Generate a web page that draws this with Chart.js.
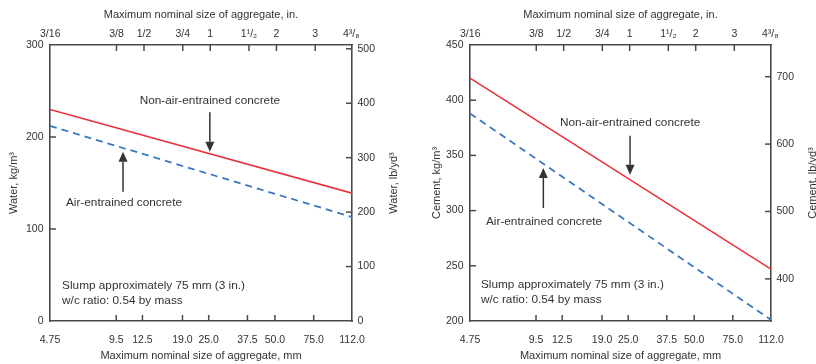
<!DOCTYPE html>
<html><head><meta charset="utf-8">
<script src="https://cdn.jsdelivr.net/npm/chart.js@4.4.1/dist/chart.umd.min.js"></script>
<style>
html,body{margin:0;padding:0;background:#fff;overflow:hidden;width:816px;height:364px;position:relative;}
#c1{position:absolute;left:0;top:0;}
#c2{position:absolute;left:408px;top:0;}
</style></head><body>
<canvas id="c1" width="408" height="364"></canvas>
<canvas id="c2" width="420" height="364"></canvas>
<script>
// ---------------- data ----------------
const sizesMM = [4.75, 112.0];   // end points of the straight lines (mm)
const mmTicks = [4.75, 9.5, 12.5, 19.0, 25.0, 37.5, 50.0, 75.0, 112.0];
const mmTickLabels = ['4.75', '9.5', '12.5', '19.0', '25.0', '37.5', '50.0', '75.0', '112.0'];
const inchTicks = [0.1875, 0.375, 0.5, 0.75, 1, 1.5, 2, 3, 4.375];
const inchTickLabels = ['3/16', '3/8', '1/2', '3/4', '1', '1\u00B9/\u2082', '2', '3', '4\u00B3/\u2088'];

const waterNonAir = [230, 139];      // kg/m3
const waterAir = [212, 113];         // kg/m3
const waterKgTicks = [0, 100, 200, 300];
const waterLbTicks = [0, 100, 200, 300, 400, 500];

const cementNonAir = [420, 247];     // kg/m3
const cementAir = [388, 201];        // kg/m3
const cementKgTicks = [200, 250, 300, 350, 400, 450];
const cementLbTicks = [400, 500, 600, 700];

// ---------------- styling ----------------
const FONT = '"Liberation Sans", Arial, Helvetica, sans-serif';
const TXT = '#333333';
const AXC = '#4a4a4a';
const RED = '#e8323b';
const BLUE = '#3b78be';

const innerTicks = {
  id: 'innerTicks',
  afterDatasetsDraw(chart) {
    const {ctx, chartArea: a} = chart;
    const L = 6;
    ctx.save();
    ctx.strokeStyle = AXC; ctx.lineWidth = 1.5;
    Object.values(chart.scales).forEach(s => {
      s.ticks.forEach(t => {
        const p = s.getPixelForValue(t.value);
        if (s.isHorizontal()) {
          if (p < a.left + 2 || p > a.right - 2) return;
          ctx.beginPath();
          if (s.position === 'top') { ctx.moveTo(p, a.top); ctx.lineTo(p, a.top + L); }
          else { ctx.moveTo(p, a.bottom); ctx.lineTo(p, a.bottom - L); }
          ctx.stroke();
        } else {
          if (p < a.top + 2 || p > a.bottom - 2) return;
          ctx.beginPath();
          if (s.position === 'left') { ctx.moveTo(a.left, p); ctx.lineTo(a.left + L, p); }
          else { ctx.moveTo(a.right, p); ctx.lineTo(a.right - L, p); }
          ctx.stroke();
        }
      });
    });
    ctx.restore();
  }
};

const notesPlugin = {
  id: 'notes',
  afterDraw(chart, args, opts) {
    const {ctx, chartArea: a} = chart;
    const xs = chart.scales.x, ys = chart.scales.y;
    ctx.save();
    ctx.fillStyle = TXT; ctx.strokeStyle = TXT;
    ctx.font = '11.8px ' + FONT;
    ctx.textBaseline = 'middle';
    (opts.texts || []).forEach(t => {
      ctx.textAlign = t.align || 'center';
      ctx.fillText(t.text, xs.getPixelForValue(t.x), ys.getPixelForValue(t.y));
    });
    (opts.arrows || []).forEach(ar => {
      const x = xs.getPixelForValue(ar.x);
      const y1 = ys.getPixelForValue(ar.from), y2 = ys.getPixelForValue(ar.to);
      const dir = y2 > y1 ? 1 : -1, hl = 10, hw = 4.5;
      ctx.lineWidth = 1.5;
      ctx.beginPath(); ctx.moveTo(x, y1); ctx.lineTo(x, y2 - dir * hl); ctx.stroke();
      ctx.beginPath(); ctx.moveTo(x, y2); ctx.lineTo(x - hw, y2 - dir * hl); ctx.lineTo(x + hw, y2 - dir * hl); ctx.closePath(); ctx.fill();
    });
    if (opts.rightTitle) {
      ctx.font = '11px ' + FONT;
      ctx.translate(a.right + opts.rightTitleOffset, (a.top + a.bottom) / 2);
      ctx.rotate(-Math.PI / 2);
      ctx.textAlign = 'center';
      ctx.fillText(opts.rightTitle, 0, 0);
    }
    ctx.restore();
  }
};

function pts(xs, ys) { return xs.map((x, i) => ({x: x, y: ys[i]})); }
function setTicks(vals) { return s => { s.ticks = vals.map(v => ({value: v})); }; }

function makeChart(id, c) {
  const tickFont = {family: FONT, size: 10.5};
  const titleFont = {family: FONT, size: 11};
  const border = {display: true, color: AXC, width: 1.6};
  const grid = {display: false, drawTicks: false, tickLength: 0};
  return new Chart(document.getElementById(id), {
    type: 'line',
    data: {
      datasets: [
        {data: pts(sizesMM, c.nonAir), borderColor: RED, borderWidth: 1.6, pointRadius: 0, fill: false, xAxisID: 'x', yAxisID: 'y'},
        {data: pts(sizesMM, c.air), borderColor: BLUE, borderWidth: 1.8, borderDash: [7, 5], pointRadius: 0, fill: false, xAxisID: 'x', yAxisID: 'y'}
      ]
    },
    options: {
      responsive: false, animation: false, devicePixelRatio: 1,
      layout: {padding: 0},
      plugins: {
        legend: {display: false}, tooltip: {enabled: false},
        notes: c.notes
      },
      scales: {
        x: {
          type: 'logarithmic', position: 'bottom', min: 4.75, max: 112,
          afterBuildTicks: setTicks(mmTicks),
          afterFit: s => { s.height = 43; },
          grid: grid, border: border,
          ticks: {autoSkip: false, maxRotation: 0, padding: 13, color: TXT, font: tickFont,
                  callback: (v, i) => mmTickLabels[i]},
          title: {display: true, text: 'Maximum nominal size of aggregate, mm', color: TXT, font: titleFont, padding: {top: 0, bottom: 1}}
        },
        x2: {
          type: 'logarithmic', position: 'top', min: 4.75, max: 112,
          afterBuildTicks: setTicks(inchTicks.map(v => v * 25.4)),
          afterFit: s => { s.height = 45; },
          grid: grid, border: border,
          ticks: {autoSkip: false, maxRotation: 0, padding: 5, color: TXT, font: tickFont,
                  callback: (v, i) => inchTickLabels[i]},
          title: {display: true, text: 'Maximum nominal size of aggregate, in.', color: TXT, font: titleFont, padding: {top: 8.4, bottom: 0}}
        },
        y: {
          type: 'linear', position: 'left', min: c.kgMin, max: c.kgMax,
          afterBuildTicks: setTicks(c.kgTicks),
          afterFit: s => { s.width = c.leftW; },
          grid: grid, border: border,
          ticks: {padding: 6.5, color: TXT, font: tickFont},
          title: {display: true, text: c.leftTitle, color: TXT, font: titleFont, padding: {top: c.leftTitlePad, bottom: 0}}
        },
        y2: {
          type: 'linear', position: 'right', min: c.lbMin, max: c.lbMax,
          afterBuildTicks: setTicks(c.lbTicks),
          afterFit: s => { s.width = c.rightW; },
          grid: grid, border: border,
          ticks: {padding: 5.5, color: TXT, font: tickFont}
        }
      }
    },
    plugins: [innerTicks, notesPlugin]
  });
}

makeChart('c1', {
  nonAir: waterNonAir, air: waterAir,
  kgMin: 0, kgMax: 300, kgTicks: waterKgTicks,
  lbMin: 0, lbMax: 507, lbTicks: waterLbTicks,
  leftW: 50, rightW: 56, leftTitlePad: 7.4,
  leftTitle: 'Water, kg/m\u00B3',
  notes: {
    rightTitle: 'Water, lb/yd\u00B3', rightTitleOffset: 42,
    texts: [
      {text: 'Non-air-entrained concrete', x: 25.3, y: 239.5},
      {text: 'Air-entrained concrete', x: 10.3, y: 128.6},
      {text: 'Slump approximately 75 mm (3 in.)', x: 5.39, y: 38.6, align: 'left'},
      {text: 'w/c ratio: 0.54 by mass', x: 5.39, y: 22.3, align: 'left'}
    ],
    arrows: [
      {x: 25.3, from: 227, to: 184},
      {x: 10.2, from: 140.5, to: 184}
    ]
  }
});

makeChart('c2', {
  nonAir: cementNonAir, air: cementAir,
  kgMin: 200, kgMax: 450, kgTicks: cementKgTicks,
  lbMin: 337.5, lbMax: 747, lbTicks: cementLbTicks,
  leftW: 62, rightW: 57, leftTitlePad: 22.4,
  leftTitle: 'Cement, kg/m\u00B3',
  notes: {
    rightTitle: 'Cement, lb/yd\u00B3', rightTitleOffset: 42,
    texts: [
      {text: 'Non-air-entrained concrete', x: 25.5, y: 379.2},
      {text: 'Air-entrained concrete', x: 10.33, y: 290.2},
      {text: 'Slump approximately 75 mm (3 in.)', x: 5.33, y: 232.5, align: 'left'},
      {text: 'w/c ratio: 0.54 by mass', x: 5.33, y: 218.9, align: 'left'}
    ],
    arrows: [
      {x: 25.5, from: 367.7, to: 332.5},
      {x: 10.26, from: 302.4, to: 338.5}
    ]
  }
});
</script>
</body></html>
